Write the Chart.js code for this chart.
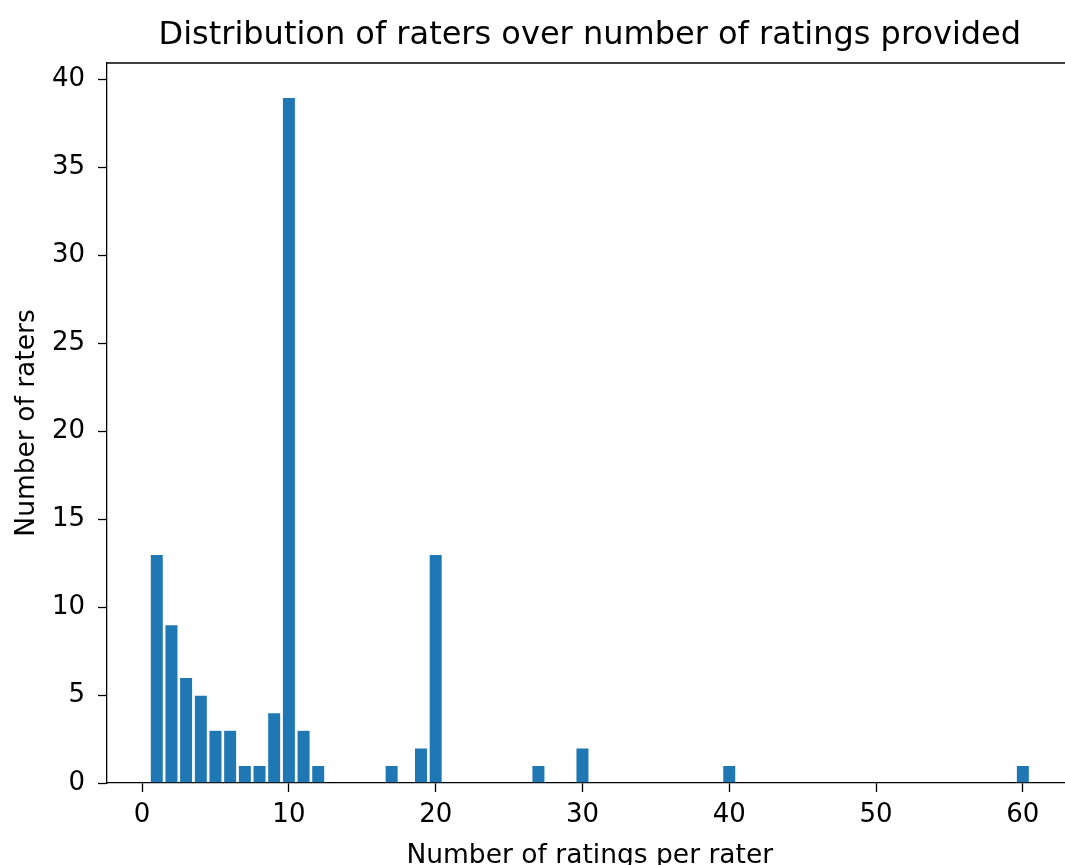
<!DOCTYPE html>
<html>
<head>
<meta charset="utf-8">
<script src="https://cdn.jsdelivr.net/npm/chart.js@4"></script>
<style>
  html, body { margin: 0; padding: 0; background: #fff; overflow: hidden; }
  #wrap { width: 1080px; height: 880px; }
</style>
</head>
<body>
<div id="wrap"><canvas id="ratersChart"></canvas></div>
<script>
// ratings per rater -> how many raters gave that many ratings
const ratingCounts = [1, 2, 3, 4, 5, 6, 7, 8, 9, 10, 11, 12, 17, 19, 20, 27, 30, 40, 60];
const raterCounts  = [13, 9, 6, 5, 3, 3, 1, 1, 4, 39, 3, 1, 1, 2, 13, 1, 2, 1, 1];
const xTicks = [0, 10, 20, 30, 40, 50, 60];
const yTicks = [0, 5, 10, 15, 20, 25, 30, 35, 40];

const points = ratingCounts.map((x, i) => ({ x: x, y: raterCounts[i] }));

Chart.defaults.font.family = '"DejaVu Sans", sans-serif';
Chart.defaults.color = '#000';

// matplotlib-like top spine
const topSpine = {
    id: 'topSpine',
    afterDraw(chart) {
        const { ctx, chartArea } = chart;
        ctx.save();
        ctx.strokeStyle = '#000';
        ctx.lineWidth = 1.3;
        ctx.beginPath();
        ctx.moveTo(chartArea.left, chartArea.top);
        ctx.lineTo(chartArea.right, chartArea.top);
        ctx.stroke();
        ctx.restore();
    }
};

const ctx = document.getElementById('ratersChart').getContext('2d');

new Chart(ctx, {
    type: 'bar',
    data: {
        datasets: [{
            data: points,
            backgroundColor: '#1f77b4',
            borderColor: '#ffffff',
            borderWidth: 0.6,
            barPercentage: 0.9,
            categoryPercentage: 1.0
        }]
    },
    options: {
        responsive: true,
        maintainAspectRatio: false,
        animation: false,
        layout: { padding: { left: 0, right: 7.4, top: 0, bottom: 0 } },
        plugins: {
            legend: { display: false },
            tooltip: { enabled: false },
            title: {
                display: true,
                fullSize: false,
                text: 'Distribution of raters over number of ratings provided',
                font: { size: 32, weight: 'normal' },
                color: '#000',
                padding: { top: 16, bottom: 8.6 }
            }
        },
        scales: {
            x: {
                type: 'linear',
                offset: false,
                min: -2.39,
                max: 63.39,
                afterBuildTicks: scale => { scale.ticks = xTicks.map(v => ({ value: v })); },
                afterFit: scale => { scale.height = 97; },
                grid: { offset: false, drawOnChartArea: false, drawTicks: true, tickLength: 9, tickColor: '#000', tickWidth: 1.3 },
                border: { display: true, color: '#000', width: 1.3 },
                ticks: { font: { size: 26 }, padding: 8, maxRotation: 0 },
                title: {
                    display: true,
                    text: 'Number of ratings per rater',
                    font: { size: 26.5 },
                    padding: { top: 0, bottom: 8 }
                }
            },
            y: {
                min: 0,
                max: 40.95,
                afterBuildTicks: scale => { scale.ticks = yTicks.map(v => ({ value: v })); },
                afterFit: scale => { scale.width = 107; },
                grid: { drawOnChartArea: false, drawTicks: true, tickLength: 9, tickColor: '#000', tickWidth: 1.3 },
                border: { display: true, color: '#000', width: 1.3 },
                ticks: { font: { size: 26 }, padding: 13 },
                title: {
                    display: true,
                    text: 'Number of raters',
                    font: { size: 26.5 },
                    padding: { top: 11, bottom: 0 }
                }
            }
        }
    },
    plugins: [topSpine]
});
</script>
</body>
</html>
